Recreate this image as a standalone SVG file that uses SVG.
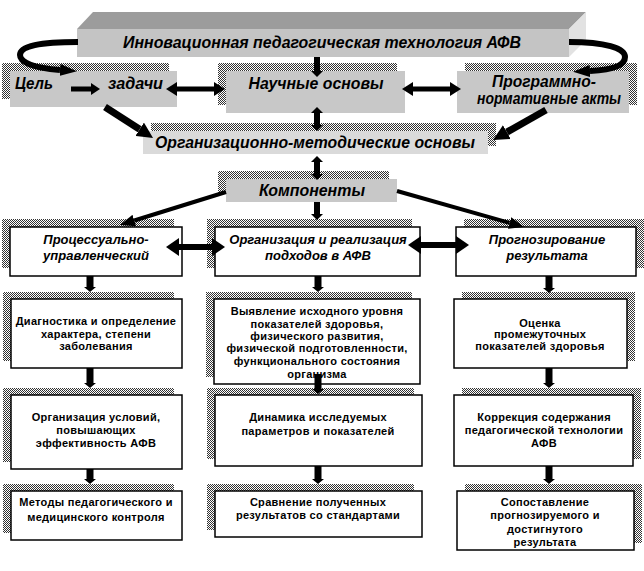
<svg xmlns="http://www.w3.org/2000/svg" width="644" height="571" viewBox="0 0 644 571">
<style>
.bg{fill:#fff}
.sh{fill:url(#hatch)}
.gb{fill:#c8c8c8}
.lb{fill:#dadada}
.wb{fill:#fff;stroke:#000;stroke-width:1.5}
.t1{font-family:"Liberation Sans",Arial,sans-serif;font-weight:bold;font-style:italic;font-size:16px;fill:#000}
.t2{font-family:"Liberation Sans",Arial,sans-serif;font-weight:bold;font-style:italic;font-size:13px;fill:#000;text-anchor:middle}
.t3{font-family:"Liberation Sans",Arial,sans-serif;font-weight:bold;font-size:11px;letter-spacing:0.3px;fill:#000;text-anchor:middle}
.c{stroke:#000;fill:none}
</style>
<defs>
<pattern id="hatch" width="2" height="2" patternUnits="userSpaceOnUse">
<rect width="2" height="2" fill="#fff"/>
<rect width="1" height="1" fill="#333"/>
<rect x="1" y="1" width="1" height="1" fill="#333"/>
</pattern>
<marker id="m1" markerUnits="userSpaceOnUse" viewBox="0 -7 11 14" markerWidth="11" markerHeight="14" refX="0" refY="0" orient="auto-start-reverse"><path d="M0,-7L11,0L0,7z" fill="#000"/></marker>
<marker id="m2" markerUnits="userSpaceOnUse" viewBox="0 -9 13 18" markerWidth="13" markerHeight="18" refX="0" refY="0" orient="auto-start-reverse"><path d="M0,-9L13,0L0,9z" fill="#000"/></marker>
<marker id="m3" markerUnits="userSpaceOnUse" viewBox="0 -6 6 12" markerWidth="6" markerHeight="12" refX="0" refY="0" orient="auto-start-reverse"><path d="M0,-6L6,0L0,6z" fill="#000"/></marker>
<marker id="m4" markerUnits="userSpaceOnUse" viewBox="0 -6 5 12" markerWidth="5" markerHeight="12" refX="0" refY="0" orient="auto-start-reverse"><path d="M0,-6L5,0L0,6z" fill="#000"/></marker>
<marker id="m5" markerUnits="userSpaceOnUse" viewBox="0 -8 16 16" markerWidth="16" markerHeight="16" refX="0" refY="0" orient="auto"><path d="M0,-8L16,0L0,8z" fill="#000"/></marker>
<marker id="m6" markerUnits="userSpaceOnUse" viewBox="0 -6 15 12" markerWidth="15" markerHeight="12" refX="0" refY="0" orient="auto"><path d="M0,-6L15,0L0,6z" fill="#000"/></marker>
<marker id="m7" markerUnits="userSpaceOnUse" viewBox="0 -6 17 12" markerWidth="17" markerHeight="12" refX="0" refY="0" orient="auto"><path d="M0,-6L17,0L0,6z" fill="#000"/></marker>
<marker id="m8" markerUnits="userSpaceOnUse" viewBox="0 -6 9 12" markerWidth="9" markerHeight="12" refX="0" refY="0" orient="auto"><path d="M0,-6L9,0L0,6z" fill="#000"/></marker>
</defs>
<rect class="bg" width="644" height="571"/>

<g id="banner">
<polygon points="77,29 93,12 586,12 569,29" fill="#9c9c9c"/>
<polygon points="569,29 586,12 586,40 569,57" fill="#e2e2e2"/>
<rect x="77" y="29" width="492" height="28" fill="#c4c4c4"/>
<text class="t1" x="322" y="48" text-anchor="middle" textLength="398" lengthAdjust="spacingAndGlyphs">Инновационная педагогическая технология АФВ</text>
</g>

<g id="goal">
<rect class="sh" x="2" y="63" width="167" height="36"/>
<rect class="gb" x="10" y="71" width="167" height="36"/>
<text class="t1" x="15" y="89" textLength="38" lengthAdjust="spacingAndGlyphs">Цель</text>
<text class="t1" x="108" y="89" textLength="55" lengthAdjust="spacingAndGlyphs">задачи</text>
</g>

<g id="science">
<rect class="sh" x="218" y="63" width="179" height="42"/>
<rect class="gb" x="226" y="71" width="179" height="42"/>
<text class="t1" x="316" y="89" text-anchor="middle" textLength="135" lengthAdjust="spacingAndGlyphs">Научные основы</text>
</g>

<g id="acts">
<rect class="sh" x="465" y="63" width="172" height="42"/>
<rect class="gb" x="457" y="71" width="172" height="42"/>
<text class="t1" x="544" y="87" text-anchor="middle" textLength="104" lengthAdjust="spacingAndGlyphs">Программно-</text>
<text class="t1" x="549" y="104" text-anchor="middle" textLength="144" lengthAdjust="spacingAndGlyphs">нормативные акты</text>
</g>

<g id="orgmet">
<rect class="sh" x="151" y="123" width="345" height="23"/>
<rect class="lb" x="143" y="131" width="345" height="23"/>
<text class="t1" x="315" y="148" text-anchor="middle" textLength="320" lengthAdjust="spacingAndGlyphs">Организационно-методические основы</text>
</g>

<g id="components">
<rect class="sh" x="218" y="171" width="171" height="23"/>
<rect class="gb" x="226" y="179" width="171" height="23"/>
<text class="t1" x="312" y="196" text-anchor="middle" textLength="106" lengthAdjust="spacingAndGlyphs">Компоненты</text>
</g>

<g id="proc">
<rect class="sh" x="2" y="219" width="172" height="49"/>
<rect class="wb" x="10" y="227" width="172" height="49"/>
<text class="t2" x="96" y="244">Процессуально-</text>
<text class="t2" x="96" y="260">управленческий</text>
</g>

<g id="orgreal">
<rect class="sh" x="207" y="219" width="205" height="49"/>
<rect class="wb" x="215" y="227" width="205" height="49"/>
<text class="t2" x="318" y="244">Организация и реализация</text>
<text class="t2" x="318" y="260">подходов в АФВ</text>
</g>

<g id="forecast">
<rect class="sh" x="464" y="219" width="180" height="49"/>
<rect class="wb" x="456" y="227" width="180" height="49"/>
<text class="t2" x="547" y="244">Прогнозирование</text>
<text class="t2" x="547" y="260">результата</text>
</g>

<g id="diag">
<rect class="sh" x="3" y="292" width="171" height="69"/>
<rect class="wb" x="11" y="299" width="171" height="69"/>
<text class="t3" x="96" y="325">Диагностика и определение</text>
<text class="t3" x="96" y="338">характера, степени</text>
<text class="t3" x="96" y="350">заболевания</text>
</g>

<g id="level">
<rect class="sh" x="206" y="292" width="206" height="85"/>
<rect class="wb" x="214" y="299" width="206" height="85"/>
<text class="t3" x="317" y="315">Выявление исходного уровня</text>
<text class="t3" x="317" y="328">показателей здоровья,</text>
<text class="t3" x="317" y="340">физического  развития,</text>
<text class="t3" x="317" y="352">физической подготовленности,</text>
<text class="t3" x="317" y="365">функционального состояния</text>
<text class="t3" x="317" y="378">организма</text>
</g>

<g id="estimate">
<rect class="sh" x="462" y="292" width="173" height="69"/>
<rect class="wb" x="454" y="299" width="173" height="69"/>
<text class="t3" x="540" y="327">Оценка</text>
<text class="t3" x="540" y="338">промежуточных</text>
<text class="t3" x="540" y="350">показателей здоровья</text>
</g>

<g id="conditions">
<rect class="sh" x="3" y="388" width="171" height="74"/>
<rect class="wb" x="11" y="395" width="171" height="74"/>
<text class="t3" x="96" y="421">Организация условий,</text>
<text class="t3" x="96" y="434">повышающих</text>
<text class="t3" x="96" y="447">эффективность АФВ</text>
</g>

<g id="dynamics">
<rect class="sh" x="207" y="388" width="207" height="71"/>
<rect class="wb" x="215" y="395" width="207" height="71"/>
<text class="t3" x="318" y="421">Динамика  исследуемых</text>
<text class="t3" x="318" y="435">параметров и показателей</text>
</g>

<g id="correction">
<rect class="sh" x="462" y="388" width="179" height="71"/>
<rect class="wb" x="454" y="395" width="179" height="71"/>
<text class="t3" x="544" y="421">Коррекция содержания</text>
<text class="t3" x="544" y="434">педагогической технологии</text>
<text class="t3" x="544" y="447">АФВ</text>
</g>

<g id="methods">
<rect class="sh" x="3" y="484" width="171" height="49"/>
<rect class="wb" x="11" y="491" width="171" height="49"/>
<text class="t3" x="96" y="506">Методы педагогического и</text>
<text class="t3" x="96" y="521">медицинского контроля</text>
</g>

<g id="compare">
<rect class="sh" x="207" y="484" width="207" height="46"/>
<rect class="wb" x="215" y="491" width="207" height="46"/>
<text class="t3" x="318" y="506">Сравнение полученных</text>
<text class="t3" x="318" y="519">результатов со стандартами</text>
</g>

<g id="juxtapose">
<rect class="sh" x="465" y="484" width="177" height="59"/>
<rect class="wb" x="457" y="491" width="177" height="59"/>
<text class="t3" x="545" y="506">Сопоставление</text>
<text class="t3" x="545" y="519">прогнозируемого и</text>
<text class="t3" x="545" y="533">достигнутого</text>
<text class="t3" x="545" y="546">результата</text>
</g>

<g id="connectors">
<path class="c" d="M78,42 C40,42 20,46 20,55 C20,63 35,68 60,70" stroke-width="6" marker-end="url(#m7)"/>
<path class="c" d="M569,42 C605,42 625,48 625,57 C625,66 612,70 590,71" stroke-width="6" marker-end="url(#m7)"/>
<line class="c" x1="71" y1="89" x2="91" y2="89" stroke-width="5" marker-end="url(#m8)"/>
<line class="c" x1="177" y1="89" x2="214" y2="89" stroke-width="5" marker-start="url(#m1)" marker-end="url(#m1)"/>
<line class="c" x1="413" y1="89" x2="450" y2="89" stroke-width="5" marker-start="url(#m1)" marker-end="url(#m1)"/>
<line class="c" x1="317" y1="57" x2="317" y2="71" stroke-width="6" marker-end="url(#m3)"/>
<line class="c" x1="317" y1="113" x2="317" y2="125" stroke-width="6" marker-start="url(#m3)" marker-end="url(#m3)"/>
<line class="c" x1="317" y1="162" x2="317" y2="174" stroke-width="6" marker-start="url(#m3)" marker-end="url(#m3)"/>
<line class="c" x1="317" y1="202" x2="317" y2="214" stroke-width="6" marker-end="url(#m3)"/>
<line class="c" x1="105" y1="107" x2="139.6" y2="129.3" stroke-width="7" marker-end="url(#m5)"/>
<line class="c" x1="546" y1="110" x2="506.9" y2="132.1" stroke-width="7" marker-end="url(#m5)"/>
<line class="c" x1="226" y1="192" x2="134.3" y2="220.5" stroke-width="4" marker-end="url(#m6)"/>
<line class="c" x1="397" y1="191" x2="509.6" y2="222.9" stroke-width="4" marker-end="url(#m6)"/>
<line class="c" x1="179" y1="247" x2="212" y2="247" stroke-width="6" marker-start="url(#m2)" marker-end="url(#m2)"/>
<line class="c" x1="421" y1="245" x2="456" y2="245" stroke-width="6" marker-start="url(#m2)" marker-end="url(#m2)"/>
<line class="c" x1="90" y1="276" x2="90" y2="287" stroke-width="7" marker-end="url(#m4)"/>
<line class="c" x1="318" y1="276" x2="318" y2="287" stroke-width="7" marker-end="url(#m4)"/>
<line class="c" x1="549" y1="276" x2="549" y2="288" stroke-width="7" marker-end="url(#m4)"/>
<line class="c" x1="90" y1="368" x2="90" y2="383" stroke-width="7" marker-end="url(#m4)"/>
<line class="c" x1="318" y1="374" x2="318" y2="389" stroke-width="7" marker-end="url(#m4)"/>
<line class="c" x1="549" y1="368" x2="549" y2="383" stroke-width="7" marker-end="url(#m4)"/>
<line class="c" x1="90" y1="469" x2="90" y2="479" stroke-width="7" marker-end="url(#m4)"/>
<line class="c" x1="318" y1="466" x2="318" y2="479" stroke-width="7" marker-end="url(#m4)"/>
<line class="c" x1="549" y1="466" x2="549" y2="479" stroke-width="7" marker-end="url(#m4)"/>
</g>
</svg>
